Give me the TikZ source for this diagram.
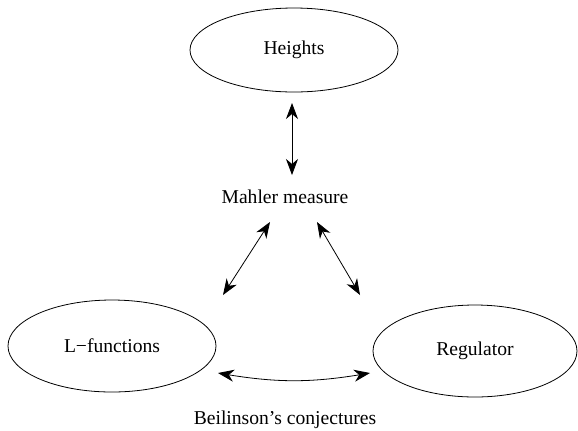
\documentclass[tikz,border=0pt]{standalone}
\usepackage{fontspec}
\setmainfont{Liberation Serif}
\usetikzlibrary{shapes.geometric,arrows.meta,bending}
\begin{document}
\begin{tikzpicture}[x=.5pt,y=-.5pt,line cap=round,font=\fontsize{9.8pt}{12pt}\selectfont,
  blob/.style={draw,ellipse,inner sep=0pt},
  dbl/.style={{Stealth[length=8pt,width=6pt,inset=2.5pt]}-{Stealth[length=8pt,width=6pt,inset=2.5pt]}}]
\useasboundingbox (0,0) rectangle (578,430);
\node[blob,minimum width=104pt,minimum height=42pt] (H) at (294,50){Heights};
\node[blob,minimum width=104pt,minimum height=46pt] (L) at (112,346){L−functions};
\node[blob,minimum width=102pt,minimum height=46pt] (R) at (475,351){Regulator};
\node (M) at (285,197){Mahler measure}; \node (B) at (285,420){Beilinson's conjectures};
\coordinate (a1) at (292,103); \coordinate (a2) at (292,175);
\coordinate (b1) at (270,222); \coordinate (b2) at (223,295);
\coordinate (c1) at (317,222); \coordinate (c2) at (360,295);
\coordinate (d1) at (218,373); \coordinate (d2) at (370,373);
\draw[dbl] (a1)--(a2); \draw[dbl] (b1)--(b2); \draw[dbl] (c1)--(c2);
\draw[dbl] (d1) to[bend right=10] (d2);
\end{tikzpicture}
\end{document}
